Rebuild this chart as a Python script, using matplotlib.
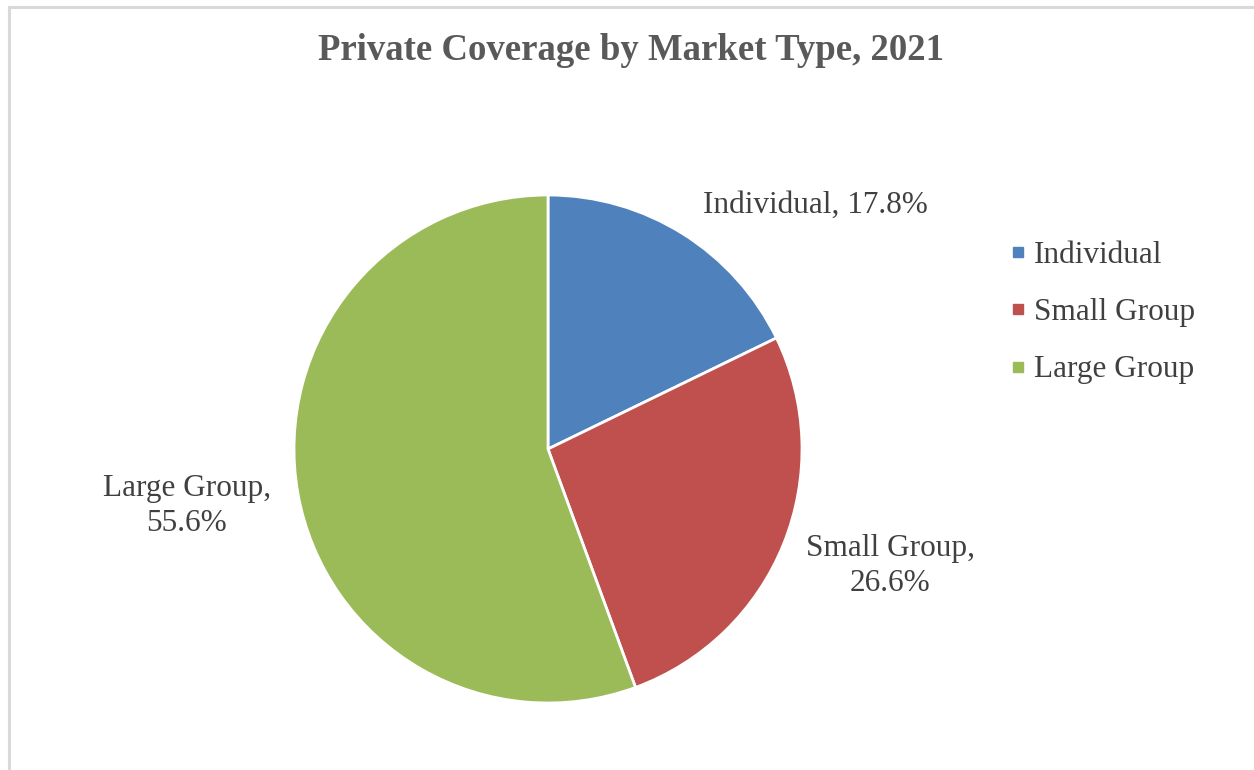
import matplotlib.pyplot as plt
from matplotlib.lines import Line2D
from matplotlib.patches import Rectangle

# Data
categories = ['Individual', 'Small Group', 'Large Group']
shares = [17.8, 26.6, 55.6]
colors = ['#4F81BD', '#C0504D', '#9BBB59']
title = 'Private Coverage by Market Type, 2021'

plt.rcParams['font.family'] = ['Liberation Serif', 'DejaVu Serif']

W, H = 1254, 770
fig = plt.figure(figsize=(W / 100, H / 100), dpi=100)

# light grey frame (runs off the right and bottom edges)
fig.patches.append(Rectangle((9 / W, -0.1), 1.2, 1.1 - 7 / H, transform=fig.transFigure,
                             fill=False, edgecolor='#D9D9D9', linewidth=2.2))

# pie axes: center (548, 449), radius 254 px
cx, cy, r = 548, 449, 254
ax = fig.add_axes([(cx - r) / W, (H - cy - r) / H, 2 * r / W, 2 * r / H])
ax.pie(shares, colors=colors, startangle=90, counterclock=False, radius=1,
       wedgeprops=dict(edgecolor='white', linewidth=2))
ax.set_xlim(-1, 1)
ax.set_ylim(-1, 1)
ax.set_aspect('equal')
ax.axis('off')

# data labels (pixel positions of label centres)
label_pos = [(815, 205), (890, 566), (187, 506)]
label_txt = [f'{categories[0]}, {shares[0]}%',
             f'{categories[1]},\n{shares[1]}%',
             f'{categories[2]},\n{shares[2]}%']
for (px, py), t in zip(label_pos, label_txt):
    fig.text(px / W, 1 - py / H, t, ha='center', va='center', fontsize=22.5,
             color='#404040', linespacing=1.3)

fig.text(631 / W, 1 - 50 / H, title, ha='center', va='center', fontsize=26.5,
         fontweight='bold', color='#595959')

handles = [Line2D([], [], marker='s', linestyle='none', markersize=7.5,
                  markerfacecolor=c, markeredgecolor=c) for c in colors]
fig.legend(handles, categories, loc='upper left',
           bbox_to_anchor=(993 / W, 1 - 225 / H), frameon=False,
           fontsize=22.5, labelcolor='#404040', handlelength=0.6,
           handletextpad=0.2, labelspacing=0.91, borderpad=0)

fig.savefig('out.png', dpi=100)
